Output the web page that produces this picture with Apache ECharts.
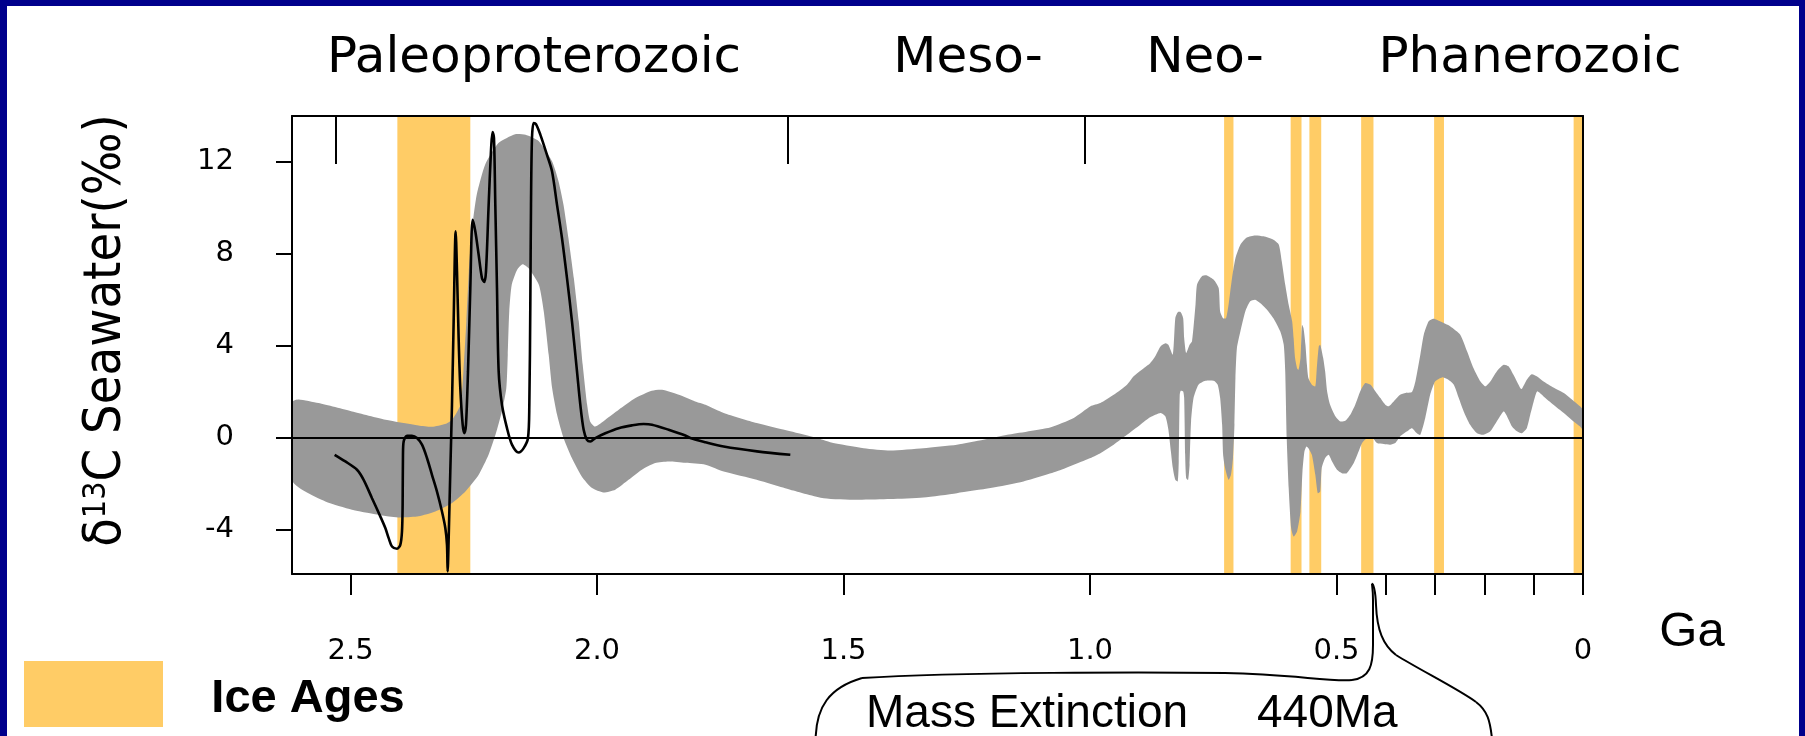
<!DOCTYPE html>
<html><head><meta charset="utf-8">
<script src="https://cdn.jsdelivr.net/npm/echarts@6/dist/echarts.min.js"></script>
<style>html,body{margin:0;padding:0;background:#fff}#chart{width:1805px;height:736px}</style>
</head><body><div id="chart"></div>
<script>
// Ice age intervals [start Ga, end Ga]
const iceAges = [[2.405,2.257],[0.728,0.709],[0.593,0.571],[0.555,0.531],[0.450,0.425],[0.302,0.282],[0.019,0.001]];

// Upper envelope of the seawater d13C band [Ga, permil]
const bandUpper = [[2.617,1.57],[2.605,1.66],[2.565,1.50],[2.497,1.14],[2.429,0.78],[2.362,0.53],[2.335,0.47],[2.308,0.59],[2.294,0.78],[2.277,1.43],[2.271,2.88],[2.265,5.06],[2.260,7.23],[2.254,8.98],[2.244,10.57],[2.227,11.88],[2.200,12.82],[2.166,13.21],[2.145,13.18],[2.118,12.90],[2.091,12.02],[2.078,11.15],[2.068,10.14],[2.058,8.69],[2.047,6.94],[2.037,5.06],[2.029,3.17],[2.020,1.43],[2.014,0.70],[2.004,0.48],[1.983,0.78],[1.956,1.21],[1.922,1.72],[1.889,2.04],[1.868,2.08],[1.834,1.86],[1.801,1.57],[1.780,1.43],[1.743,1.07],[1.676,0.63],[1.608,0.27],[1.554,-0.02],[1.527,-0.20],[1.459,-0.46],[1.405,-0.56],[1.338,-0.46],[1.270,-0.31],[1.216,-0.10],[1.168,0.12],[1.081,0.44],[1.033,0.85],[0.999,1.36],[0.979,1.50],[0.952,1.86],[0.925,2.30],[0.912,2.66],[0.891,3.02],[0.878,3.24],[0.868,3.53],[0.857,3.97],[0.847,4.11],[0.841,4.04],[0.832,3.61],[0.827,5.20],[0.822,5.46],[0.816,5.46],[0.811,5.20],[0.809,4.33],[0.805,3.68],[0.798,4.04],[0.793,4.19],[0.786,5.78],[0.783,6.65],[0.773,7.02],[0.763,7.06],[0.749,6.87],[0.739,6.51],[0.736,5.49],[0.730,5.20],[0.724,5.20],[0.719,5.78],[0.712,6.94],[0.705,7.81],[0.695,8.40],[0.682,8.71],[0.665,8.80],[0.648,8.76],[0.628,8.61],[0.617,8.40],[0.611,7.67],[0.604,6.65],[0.597,5.78],[0.590,5.06],[0.587,4.33],[0.584,3.46],[0.580,3.02],[0.577,2.95],[0.573,3.46],[0.570,4.91],[0.567,4.77],[0.563,4.04],[0.560,3.17],[0.557,2.59],[0.550,2.30],[0.543,2.23],[0.540,3.02],[0.536,3.97],[0.533,4.04],[0.527,3.46],[0.523,2.88],[0.519,2.01],[0.513,1.43],[0.502,0.92],[0.492,0.70],[0.482,0.73],[0.472,0.99],[0.462,1.43],[0.452,2.01],[0.442,2.37],[0.431,2.30],[0.421,2.01],[0.411,1.72],[0.401,1.43],[0.394,1.36],[0.384,1.57],[0.371,1.86],[0.360,1.94],[0.347,1.98],[0.340,2.44],[0.330,3.61],[0.323,4.48],[0.313,5.06],[0.303,5.17],[0.290,5.06],[0.269,4.84],[0.249,4.48],[0.235,3.75],[0.222,3.02],[0.208,2.44],[0.198,2.23],[0.188,2.44],[0.175,2.88],[0.161,3.17],[0.151,3.10],[0.141,2.73],[0.127,2.15],[0.124,2.12],[0.114,2.52],[0.104,2.76],[0.093,2.66],[0.080,2.44],[0.060,2.18],[0.039,1.94],[0.022,1.65],[0.006,1.36],[0,1.21]];

// Lower envelope of the band [Ga, permil]
const bandLower = [[2.617,-1.91],[2.592,-2.35],[2.551,-2.78],[2.497,-3.14],[2.429,-3.41],[2.396,-3.48],[2.362,-3.43],[2.328,-3.22],[2.294,-2.85],[2.267,-2.35],[2.240,-1.62],[2.220,-0.75],[2.206,0.12],[2.193,1.14],[2.184,2.15],[2.181,3.61],[2.178,5.49],[2.173,6.65],[2.162,7.31],[2.151,7.55],[2.139,7.38],[2.118,6.65],[2.108,5.49],[2.098,3.61],[2.091,2.15],[2.081,0.99],[2.068,-0.02],[2.051,-0.89],[2.031,-1.69],[2.010,-2.20],[1.987,-2.39],[1.963,-2.27],[1.936,-1.84],[1.909,-1.40],[1.882,-1.11],[1.855,-1.04],[1.821,-1.10],[1.780,-1.18],[1.743,-1.48],[1.676,-1.84],[1.608,-2.27],[1.540,-2.64],[1.473,-2.71],[1.405,-2.68],[1.338,-2.61],[1.270,-2.42],[1.202,-2.20],[1.135,-1.91],[1.067,-1.47],[0.999,-0.89],[0.979,-0.68],[0.952,-0.31],[0.925,0.12],[0.898,0.56],[0.878,0.88],[0.857,1.07],[0.847,0.92],[0.841,0.34],[0.836,-0.60],[0.832,-1.33],[0.827,-1.84],[0.822,-1.91],[0.820,-1.04],[0.818,1.86],[0.816,2.04],[0.811,2.01],[0.809,1.72],[0.807,-0.75],[0.805,-1.76],[0.801,-1.84],[0.798,-1.18],[0.795,0.70],[0.790,1.72],[0.780,2.30],[0.766,2.47],[0.749,2.47],[0.741,2.30],[0.736,1.72],[0.732,0.56],[0.730,-0.75],[0.726,-1.33],[0.719,-1.84],[0.714,-1.62],[0.710,-0.89],[0.707,0.56],[0.705,2.59],[0.702,3.90],[0.695,4.62],[0.685,5.49],[0.675,5.93],[0.665,6.00],[0.655,5.86],[0.641,5.57],[0.628,5.20],[0.614,4.62],[0.607,4.04],[0.604,2.88],[0.601,-0.02],[0.597,-2.20],[0.592,-3.94],[0.587,-4.31],[0.580,-4.09],[0.573,-3.22],[0.569,-1.47],[0.565,-0.60],[0.561,-0.39],[0.557,-0.46],[0.550,-0.75],[0.543,-1.62],[0.538,-2.42],[0.533,-2.35],[0.530,-1.33],[0.523,-0.89],[0.516,-0.75],[0.509,-1.04],[0.499,-1.40],[0.489,-1.55],[0.479,-1.55],[0.465,-1.11],[0.455,-0.60],[0.448,-0.24],[0.438,-0.02],[0.428,0.01],[0.418,-0.24],[0.404,-0.28],[0.391,-0.31],[0.381,-0.24],[0.371,0.05],[0.357,0.27],[0.347,0.41],[0.337,0.19],[0.330,0.12],[0.320,0.85],[0.310,1.86],[0.300,2.44],[0.286,2.62],[0.273,2.52],[0.262,2.30],[0.252,1.72],[0.242,1.14],[0.229,0.56],[0.215,0.19],[0.202,0.12],[0.188,0.27],[0.175,0.70],[0.161,1.14],[0.154,0.92],[0.144,0.48],[0.134,0.27],[0.124,0.19],[0.114,0.41],[0.107,0.99],[0.100,1.57],[0.093,2.01],[0.080,1.79],[0.060,1.43],[0.039,1.07],[0.019,0.70],[0.006,0.48],[0,0.34]];

// Paleoproterozoic d13C record (black curve) [Ga, permil]
const carbonCurve = [[2.5322,-0.75],[2.5105,-1.04],[2.4869,-1.40],[2.4734,-1.84],[2.4564,-2.64],[2.4396,-3.43],[2.4294,-3.94],[2.4226,-4.38],[2.4159,-4.74],[2.4057,-4.84],[2.3990,-4.67],[2.3956,-4.09],[2.3943,-2.93],[2.3936,-0.75],[2.3922,-0.17],[2.3855,0.08],[2.3753,0.08],[2.3652,-0.02],[2.3550,-0.31],[2.3449,-0.89],[2.3348,-1.62],[2.3246,-2.35],[2.3145,-3.22],[2.3077,-3.94],[2.3043,-4.67],[2.3030,-5.83],[2.3009,-4.38],[2.2976,-1.47],[2.2942,1.43],[2.2908,5.06],[2.2867,8.98],[2.2840,7.23],[2.2807,4.33],[2.2773,2.15],[2.2725,0.56],[2.2692,0.19],[2.2658,0.56],[2.2617,2.88],[2.2570,6.51],[2.2523,9.48],[2.2469,8.98],[2.2401,7.96],[2.2333,6.94],[2.2286,6.77],[2.2252,7.23],[2.2198,10.14],[2.2144,12.75],[2.2117,13.30],[2.2090,13.04],[2.2063,10.14],[2.2029,6.51],[2.1995,2.88],[2.1928,1.43],[2.1826,0.41],[2.1725,-0.31],[2.1590,-0.65],[2.1488,-0.46],[2.1400,-0.02],[2.1373,1.43],[2.1353,5.78],[2.1339,10.14],[2.1319,13.04],[2.1285,13.69],[2.1238,13.65],[2.1150,13.19],[2.1015,12.31],[2.0913,11.59],[2.0812,10.14],[2.0711,8.69],[2.0609,6.94],[2.0508,5.06],[2.0406,2.88],[2.0339,1.43],[2.0271,0.34],[2.0204,-0.10],[2.0136,-0.17],[2.0034,-0.02],[1.9832,0.19],[1.9561,0.41],[1.9291,0.53],[1.9054,0.59],[1.8885,0.56],[1.8547,0.34],[1.8209,0.09],[1.8107,-0.02],[1.7803,-0.20],[1.7431,-0.39],[1.6755,-0.60],[1.6079,-0.75]];

const xLabelValues = [2.5, 2.0, 1.5, 1.0, 0.5, 0];
const xTickValues = [2.5, 2.0, 1.5, 1.0, 0.5, 0.4, 0.3, 0.2, 0.1, 0];
const yTickValues = [-4, 0, 4, 8, 12];
const eraBoundaries = [2.53, 1.613, 1.01];
const eraLabels = ['Paleoproterozoic', 'Meso-', 'Neo-', 'Phanerozoic'];

const X_MAX = 2.6187, Y_MIN = -5.94, Y_MAX = 14.0;
const BLUE = '#00008C', YELLOW = '#FFCC66', GRAY = '#999999';
const TICK_FONT = '"DejaVu Sans", Verdana, sans-serif';
const ARIAL = '"Liberation Sans", Arial, sans-serif';

const chart = echarts.init(document.getElementById('chart'), null, {renderer: 'canvas'});

const eraX = [534, 968, 1205, 1530];
const graphics = [
  {type: 'rect', shape: {x: 0, y: 0, width: 1805, height: 6}, style: {fill: BLUE}},
  {type: 'rect', shape: {x: 0, y: 0, width: 7, height: 736}, style: {fill: BLUE}},
  {type: 'rect', shape: {x: 1799, y: 0, width: 6, height: 736}, style: {fill: BLUE}},
  {type: 'text', x: 106.5, y: 330.5, rotation: Math.PI / 2,
    style: {text: '{a|δ}{s|13}{a|C Seawater(‰)}', align: 'center', verticalAlign: 'middle', fill: '#000',
      rich: {
        a: {fontSize: 52, lineHeight: 52, fontFamily: '"DejaVu Sans Condensed", "DejaVu Sans", sans-serif', fill: '#000'},
        s: {fontSize: 32, lineHeight: 52, fontFamily: '"DejaVu Sans Condensed", "DejaVu Sans", sans-serif', fill: '#000', verticalAlign: 'top'}
      }}},
  {type: 'text', x: 1692, y: 632, style: {text: 'Ga', fontSize: 49, fontFamily: ARIAL, fill: '#000', align: 'center', verticalAlign: 'middle'}},
  {type: 'rect', shape: {x: 24, y: 661, width: 139, height: 66}, style: {fill: YELLOW}},
  {type: 'text', x: 308, y: 699, style: {text: 'Ice Ages', fontSize: 47, fontWeight: 'bold', fontFamily: ARIAL, fill: '#000', align: 'center', verticalAlign: 'middle'}},
  {type: 'text', x: 866, y: 714, style: {text: 'Mass Extinction', fontSize: 46, fontFamily: ARIAL, fill: '#000', align: 'left', verticalAlign: 'middle'}},
  {type: 'text', x: 1257, y: 714, style: {text: '440Ma', fontSize: 46, fontFamily: ARIAL, fill: '#000', align: 'left', verticalAlign: 'middle'}}
];
eraLabels.forEach((t, i) => graphics.push({type: 'text', x: eraX[i], y: 58.7,
  style: {text: t, fontSize: 50, fontFamily: TICK_FONT, fill: '#000', align: 'center', verticalAlign: 'middle'}}));
const brace = [
  [815.7,736, 817,708, 828,688, 862,678],
  [862,678, 960,672, 1150,672, 1225,673],
  [1225,673, 1290,674, 1330,682, 1352,680],
  [1352,680, 1370,678, 1373,665, 1373,645],
  [1373,645, 1373,630, 1373,615, 1373,600],
  [1373,600, 1373,590, 1372,585, 1372,584],
  [1372,584, 1373,583, 1375.5,590, 1376,605],
  [1376,605, 1377,630, 1383,645, 1396,655],
  [1396,655, 1420,670, 1460,690, 1476,702],
  [1476,702, 1488,711, 1490,722, 1491.7,736]
];
brace.forEach(b => graphics.push({type: 'bezierCurve',
  shape: {x1: b[0], y1: b[1], cpx1: b[2], cpy1: b[3], cpx2: b[4], cpy2: b[5], x2: b[6], y2: b[7]},
  style: {stroke: '#000', lineWidth: 2, fill: null}}));

const axisLineStyle = {color: '#000', width: 2};
const option = {
  animation: false,
  backgroundColor: '#ffffff',
  grid: {left: 292, top: 116, width: 1291, height: 458, containLabel: false, outerBoundsMode: 'none', show: false},
  xAxis: [
    {type: 'value', position: 'bottom', inverse: true, min: 0, max: X_MAX, z: 10,
      axisLine: {show: true, onZero: false, lineStyle: axisLineStyle},
      axisTick: {show: true, inside: false, length: 21, customValues: xTickValues, lineStyle: axisLineStyle},
      axisLabel: {show: true, customValues: xLabelValues, margin: 63, fontSize: 29, lineHeight: 29, fontFamily: TICK_FONT, color: '#000',
        formatter: v => (v === 0 ? '0' : v.toFixed(1))},
      splitLine: {show: false}},
    {type: 'value', position: 'top', inverse: true, min: 0, max: X_MAX, z: 10,
      axisLine: {show: true, onZero: false, lineStyle: axisLineStyle},
      axisTick: {show: true, inside: true, length: 48, customValues: eraBoundaries, lineStyle: axisLineStyle},
      axisLabel: {show: false}, splitLine: {show: false}}
  ],
  yAxis: [
    {type: 'value', position: 'left', min: Y_MIN, max: Y_MAX, z: 10,
      axisLine: {show: true, onZero: false, lineStyle: axisLineStyle},
      axisTick: {show: true, length: 16, customValues: yTickValues, lineStyle: axisLineStyle},
      axisLabel: {show: true, customValues: yTickValues, margin: 58, fontSize: 29, fontFamily: TICK_FONT, color: '#000'},
      splitLine: {show: false}},
    {type: 'value', position: 'right', min: Y_MIN, max: Y_MAX, z: 10,
      axisLine: {show: true, onZero: false, lineStyle: axisLineStyle},
      axisTick: {show: false}, axisLabel: {show: false}, splitLine: {show: false}}
  ],
  series: [
    {type: 'custom', name: 'Ice ages', data: iceAges, z: 1, clip: true, silent: true,
      renderItem: (params, api) => {
        const x0 = api.coord([api.value(0), 0])[0];
        const x1 = api.coord([api.value(1), 0])[0];
        const cs = params.coordSys;
        return {type: 'rect', shape: {x: Math.min(x0, x1), y: cs.y, width: Math.abs(x1 - x0), height: cs.height}, style: {fill: YELLOW}};
      }},
    {type: 'custom', name: 'Seawater band', data: [[0, 0]], z: 2, clip: true, silent: true,
      renderItem: (params, api) => {
        const pts = bandUpper.map(p => api.coord(p));
        for (let i = bandLower.length - 1; i >= 0; i--) pts.push(api.coord(bandLower[i]));
        return {type: 'polygon', shape: {points: pts, smooth: 0.2}, style: {fill: GRAY}};
      }},
    {type: 'line', name: 'd13C', data: carbonCurve, z: 4, smooth: 0.3, showSymbol: false, symbol: 'none', silent: true,
      lineStyle: {color: '#000', width: 2.6},
      markLine: {silent: true, symbol: 'none', label: {show: false}, lineStyle: {color: '#000', width: 2, type: 'solid'}, data: [{yAxis: 0}]}}
  ],
  graphic: graphics
};
chart.setOption(option);
</script>
</body></html>
